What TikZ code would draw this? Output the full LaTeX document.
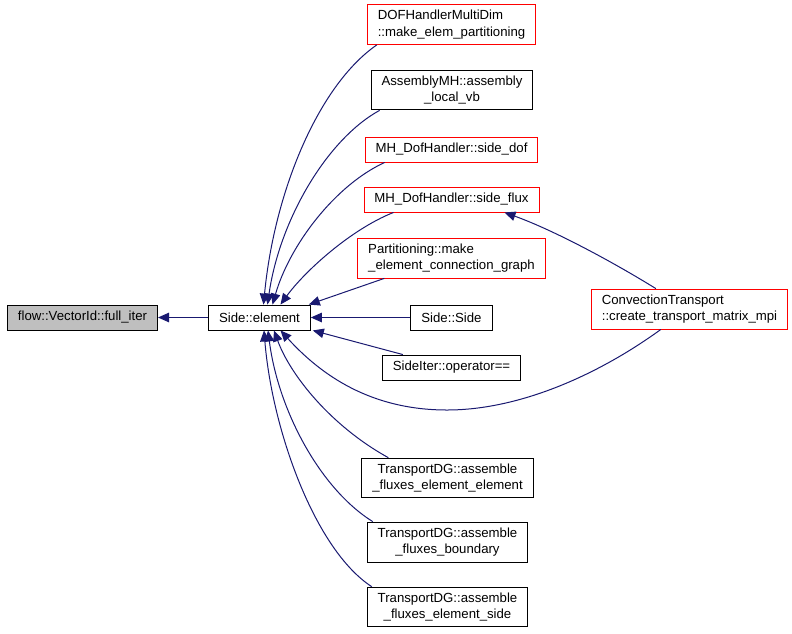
\documentclass[tikz,border=0pt]{standalone}
\usepackage{fontspec}
\setmainfont{Liberation Sans}
\usetikzlibrary{arrows.meta}
\definecolor{edgeblue}{RGB}{25,25,112}
\definecolor{nodered}{RGB}{255,0,0}
\definecolor{rootgray}{RGB}{191,191,191}
\tikzset{
  fn/.style={draw=black, line width=0.9pt, inner xsep=10.5pt, inner ysep=5.5pt,
    minimum height=25pt, font=\fontsize{13.2}{16.6}\selectfont},
  fnred/.style={fn, draw=nodered},
  call/.style={->, draw=edgeblue, line width=1pt}
}
\begin{document}
\begin{tikzpicture}[>={Triangle[length=11pt,width=9.5pt]}, x=1pt, y=-1pt]
    \useasboundingbox (0,0) rectangle (792,633);

\node[fn, fill=rootgray] (vecid) at (82.5,317.5) {flow::VectorId::full\_iter};
\node[fn] (elem) at (259.5,317.5) {Side::element};

% callers of Side::element
\node[fnred, align=left] (dofmd) at (451.5,24.5) {DOFHandlerMultiDim\\::make\_elem\_partitioning};
\node[fn, align=center] (asmvb) at (452,90) {AssemblyMH::assembly\\\_local\_vb};
\node[fnred] (sidedof) at (451.5,149.5) {MH\_DofHandler::side\_dof};
\node[fnred] (sideflux) at (451.5,199.5) {MH\_DofHandler::side\_flux};
\node[fnred, align=left] (partgraph) at (451.5,258) {Partitioning::make\\\_element\_connection\_graph};
\node[fn] (sideside) at (451.5,317.5) {Side::Side};
\node[fn] (sideiter) at (451.5,367.5) {SideIter::operator==};
\node[fn, align=center] (dgelel) at (447.5,478) {TransportDG::assemble\\\_fluxes\_element\_element};
\node[fn, align=center] (dgbnd) at (447.5,542) {TransportDG::assemble\\\_fluxes\_boundary};
\node[fn, align=center] (dgelside) at (447.5,607) {TransportDG::assemble\\\_fluxes\_element\_side};
\node[fnred, align=left] (convmpi) at (689.5,309) {ConvectionTransport\\::create\_transport\_matrix\_mpi};

\draw[call] (elem.west) -- (vecid.east);

\draw[call] ([xshift=10pt]dofmd.south west) .. controls +(-58,40) and +(11,-114) .. ([xshift=4pt]elem.north);
\draw[call] ([xshift=9pt]asmvb.south west) .. controls +(-53,29) and +(12,-84) .. ([xshift=8pt]elem.north);
\draw[call] ([xshift=20pt]sidedof.south west) .. controls +(-50,23) and +(17,-59) .. ([xshift=13pt]elem.north);
\draw[call] ([xshift=30pt]sideflux.south west) .. controls +(-43,17) and +(24,-33) .. ([xshift=21pt]elem.north);
\draw[call] ([xshift=27pt]partgraph.south west) -- ([xshift=-2pt]elem.north east);
\draw[call] (sideside.west) -- (elem.east);
\draw[call] ([xshift=21pt]sideiter.north west) -- ([xshift=2pt]elem.south east);

\draw[call] ([xshift=27pt]dgelel.north west) .. controls +(-58,-32) and +(16,44) .. ([xshift=14.5pt]elem.south);
\draw[call] ([xshift=6pt]dgbnd.north west) .. controls +(-53,-33) and +(10,79) .. ([xshift=8.5pt]elem.south);
\draw[call] ([xshift=5pt]dgelside.north west) .. controls +(-57,-37) and +(8,99) .. ([xshift=4.5pt]elem.south);

\draw[call] ([xshift=65pt]convmpi.north west) .. controls +(-42,-26) and +(50,18) .. ([xshift=-35pt]sideflux.south east);
\draw[call] ([xshift=70pt]convmpi.south west) .. controls +(-62,45) and +(73,0) .. (447,410)
    .. controls +(-77,0) and +(40,44) .. ([xshift=21pt]elem.south);

\end{tikzpicture}
\end{document}
